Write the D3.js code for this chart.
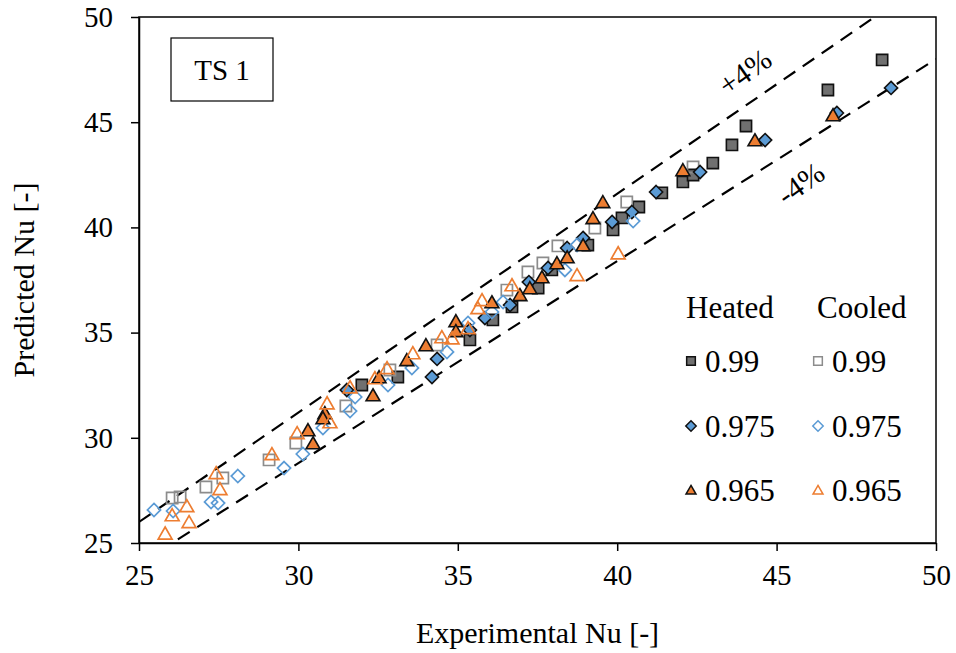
<!DOCTYPE html>
<html><head><meta charset="utf-8">
<script src="https://cdn.jsdelivr.net/npm/d3@7/dist/d3.min.js"></script>
<style>body{margin:0;background:#fff}svg{display:block;font-family:"Liberation Serif","Times New Roman",serif}</style>
</head><body><svg id="c" width="956" height="653"></svg>
<script>
const xTicks=[25,30,35,40,45,50];
const yTicks=[25,30,35,40,45,50];
const bandPct=[4,-4];
const heated099=[[31.99,32.51],[33.12,32.89],[35.38,34.65],[36.1,35.6],[36.7,36.22],[37.52,37.12],[37.95,37.98],[39.08,39.16],[39.87,39.88],[40.15,40.45],[40.68,40.97],[41.4,41.64],[42.06,42.16],[42.38,42.49],[43.0,43.06],[43.6,43.92],[44.04,44.82],[46.61,46.53],[48.31,47.96]];
const cooled099=[[26.04,27.14],[26.29,27.19],[27.1,27.66],[27.63,28.09],[29.08,28.95],[29.92,29.75],[31.49,31.51],[32.87,33.22],[34.35,34.41],[36.54,37.02],[37.2,37.88],[37.67,38.31],[38.14,39.12],[39.3,39.97],[40.3,41.21],[42.38,42.87]];
const heated0975=[[31.52,32.27],[34.19,32.89],[34.35,33.75],[35.38,35.12],[35.85,35.69],[36.64,36.31],[37.23,37.4],[37.83,38.07],[38.43,39.02],[38.93,39.5],[39.84,40.26],[40.46,40.73],[41.22,41.68],[42.6,42.63],[44.64,44.15],[46.89,45.44],[48.59,46.63]];
const cooled0975=[[25.47,26.57],[26.07,26.52],[27.26,26.95],[27.48,26.9],[28.1,28.18],[29.55,28.56],[30.14,29.23],[30.77,30.47],[31.62,31.27],[31.78,31.94],[32.81,32.51],[33.56,33.32],[34.66,34.08],[35.32,35.46],[36.07,35.98],[36.42,36.45],[38.36,37.98],[38.74,39.16],[40.5,40.3]];
const heated0965=[[30.3,30.37],[30.46,29.75],[30.83,31.18],[30.77,30.94],[32.34,32.03],[32.53,32.89],[33.4,33.7],[34.0,34.41],[34.94,35.55],[34.94,35.08],[36.07,36.45],[36.95,36.79],[37.26,37.12],[37.64,37.64],[38.11,38.31],[38.43,38.59],[38.93,39.16],[39.24,40.45],[39.55,41.21],[42.06,42.73],[44.32,44.15],[46.77,45.34]];
const cooled0965=[[25.82,25.46],[26.04,26.33],[26.5,26.76],[26.57,26.0],[27.42,28.33],[27.54,27.57],[29.17,29.23],[29.96,30.23],[30.9,31.65],[30.99,30.75],[31.62,32.41],[32.4,32.84],[32.78,33.32],[33.59,34.03],[34.5,34.79],[34.82,34.74],[35.32,35.22],[35.63,36.17],[35.76,36.55],[36.7,37.26],[38.74,37.74],[40.03,38.78]];
const legendLabels=["0.99","0.975","0.965"];

const L=139,R=936,T=17,B=543;
const svg=d3.select("#c");
const x=d3.scaleLinear().domain([25,50]).range([L,R]);
const y=d3.scaleLinear().domain([25,50]).range([B,T]);

const sq={draw(c,s){const h=Math.sqrt(s)/2;c.rect(-h,-h,2*h,2*h);}};
const dm={draw(c,s){const h=Math.sqrt(s)/2*1.2;c.moveTo(0,-h);c.lineTo(h,0);c.lineTo(0,h);c.lineTo(-h,0);c.closePath();}};
const tr={draw(c,s){const h=Math.sqrt(s)/2;c.moveTo(0,-h*1.05);c.lineTo(h*1.15,h*0.95);c.lineTo(-h*1.15,h*0.95);c.closePath();}};

const series=[
 {data:heated099,type:sq,size:125,fill:"#707070",stroke:"#111",sw:1.6},
 {data:cooled099,type:sq,size:125,fill:"none",stroke:"#8c8c8c",sw:1.7},
 {data:heated0975,type:dm,size:120,fill:"#5b9bd5",stroke:"#111",sw:1.6},
 {data:cooled0975,type:dm,size:120,fill:"none",stroke:"#5b9bd5",sw:1.7},
 {data:heated0965,type:tr,size:145,fill:"#ed7d31",stroke:"#111",sw:1.6},
 {data:cooled0965,type:tr,size:145,fill:"none",stroke:"#ed7d31",sw:1.7}
];

svg.append("rect").attr("x",L).attr("y",T).attr("width",R-L).attr("height",B-T).attr("fill","none").attr("stroke","#000").attr("stroke-width",1.5);

const ax=svg.append("g").attr("transform",`translate(0,${B})`).call(d3.axisBottom(x).tickValues(xTicks).tickSize(8).tickSizeOuter(0).tickPadding(6).tickFormat(d3.format("d")));
const ay=svg.append("g").attr("transform",`translate(${L},0)`).call(d3.axisLeft(y).tickValues(yTicks).tickSize(8).tickSizeOuter(0).tickPadding(18).tickFormat(d3.format("d")));
[ax,ay].forEach(g=>{g.select(".domain").attr("stroke","#000").attr("stroke-width",1.5);g.selectAll(".tick line").attr("stroke","#000").attr("stroke-width",1.5);g.selectAll("text").attr("font-family","Liberation Serif").attr("font-size",29).attr("fill","#000");});
ax.selectAll("text").attr("dy","0.95em");

svg.append("clipPath").attr("id","pc").append("rect").attr("x",L).attr("y",T).attr("width",R-L).attr("height",B-T);

const band=svg.append("g").attr("clip-path","url(#pc)");
bandPct.forEach(p=>{const k=1+p/100;
 band.append("line").attr("x1",x(25)).attr("y1",y(25*k)).attr("x2",x(50)).attr("y2",y(50*k)).attr("stroke","#000").attr("stroke-width",2.2).attr("stroke-dasharray","14,9");});

const sym=d3.symbol();
series.forEach(s=>{
 svg.append("g").selectAll("path").data(s.data).join("path")
  .attr("d",sym.type(s.type).size(s.size)())
  .attr("transform",d=>`translate(${x(d[0])},${y(d[1])})`)
  .attr("fill",s.fill).attr("stroke",s.stroke).attr("stroke-width",s.sw);
});

svg.append("text").attr("transform",`translate(${x(44.0)},${y(47.4)}) rotate(-35)`).attr("text-anchor","middle").attr("dy","0.35em").attr("font-size",30).text("+4%");
svg.append("text").attr("transform",`translate(${x(45.75)},${y(42.1)}) rotate(-35)`).attr("text-anchor","middle").attr("dy","0.35em").attr("font-size",30).text("-4%");

svg.append("rect").attr("x",171).attr("y",38).attr("width",102).attr("height",63).attr("fill","#fff").attr("stroke","#000").attr("stroke-width",1.2);
svg.append("text").attr("x",222).attr("y",80).attr("text-anchor","middle").attr("font-size",29).text("TS 1");

svg.append("text").attr("x",(L+R)/2).attr("y",643).attr("text-anchor","middle").attr("font-size",30).text("Experimental Nu [-]");
svg.append("text").attr("transform",`translate(34,${(T+B)/2}) rotate(-90)`).attr("text-anchor","middle").attr("font-size",30).text("Predicted Nu [-]");

const lg=svg.append("g");
lg.append("text").attr("x",686).attr("y",318).attr("font-size",31).text("Heated");
lg.append("text").attr("x",817).attr("y",318).attr("font-size",31).text("Cooled");
const rowY=[361,426,490];
const small=d3.symbol();
legendLabels.forEach((lab,i)=>{
 const h=series[i*2],c=series[i*2+1];
 lg.append("path").attr("d",small.type(h.type).size(75)()).attr("transform",`translate(691,${rowY[i]})`).attr("fill",h.fill).attr("stroke",h.stroke).attr("stroke-width",1.5);
 lg.append("text").attr("x",705).attr("y",rowY[i]+11).attr("font-size",31).text(lab);
 lg.append("path").attr("d",small.type(c.type).size(75)()).attr("transform",`translate(818,${rowY[i]})`).attr("fill",c.fill).attr("stroke",c.stroke).attr("stroke-width",1.5);
 lg.append("text").attr("x",832).attr("y",rowY[i]+11).attr("font-size",31).text(lab);
});
</script></body></html>
